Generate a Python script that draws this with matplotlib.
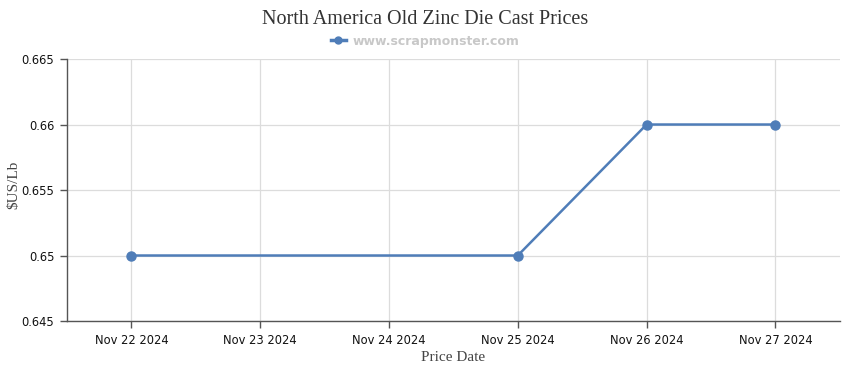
import matplotlib
matplotlib.use("Agg")
import matplotlib.pyplot as plt
from matplotlib.lines import Line2D

dates = ["Nov 22 2024", "Nov 23 2024", "Nov 24 2024", "Nov 25 2024", "Nov 26 2024", "Nov 27 2024"]
price_idx = [0, 3, 4, 5]
prices = [0.65, 0.65, 0.66, 0.66]
yticks = [0.645, 0.65, 0.655, 0.66, 0.665]
ytick_labels = ["0.645", "0.65", "0.655", "0.66", "0.665"]

blue = "#4f7db8"
fig = plt.figure(figsize=(8.5, 3.7), dpi=100)
ax = fig.add_axes([0.0788, 0.1324, 0.9092, 0.7081])

ax.plot(price_idx, prices, color=blue, lw=1.8, marker="o", ms=6.5, zorder=3)

ax.set_xlim(-0.5, 5.5)
ax.set_ylim(0.645, 0.665)
ax.set_xticks(range(len(dates)))
ax.set_xticklabels(dates)
ax.set_yticks(yticks)
ax.set_yticklabels(ytick_labels)
ax.grid(True, color="#dcdcdc", lw=0.9)
ax.set_axisbelow(True)

for s in ["top", "right"]:
    ax.spines[s].set_visible(False)
for s in ["left", "bottom"]:
    ax.spines[s].set_color("#555555")
    ax.spines[s].set_linewidth(1.0)
ax.tick_params(axis="both", colors="#555555", length=5, width=1, labelsize=8.3,
               labelcolor="#111111", pad=4)

ax.set_xlabel("Price Date", family="Liberation Serif", fontsize=11, color="#444444", labelpad=3)
fig.text(0.016, 0.5, "$US/Lb", rotation=90, ha="center", va="center",
         family="Liberation Serif", fontsize=11, color="#444444")

fig.text(0.5, 0.947, "North America Old Zinc Die Cast Prices", ha="center", va="center",
         family="Liberation Serif", fontsize=14.5, color="#333333")

handle = Line2D([], [], color=blue, lw=2.5, marker="o", ms=5)
leg = fig.legend([handle], ["www.scrapmonster.com"], loc="center", bbox_to_anchor=(0.5, 0.889),
                 frameon=False, handlelength=1.2, handletextpad=0.5,
                 prop={"weight": "bold", "size": 9})
for t in leg.get_texts():
    t.set_color("#c8c8c8")

fig.savefig("out.png", dpi=100)
